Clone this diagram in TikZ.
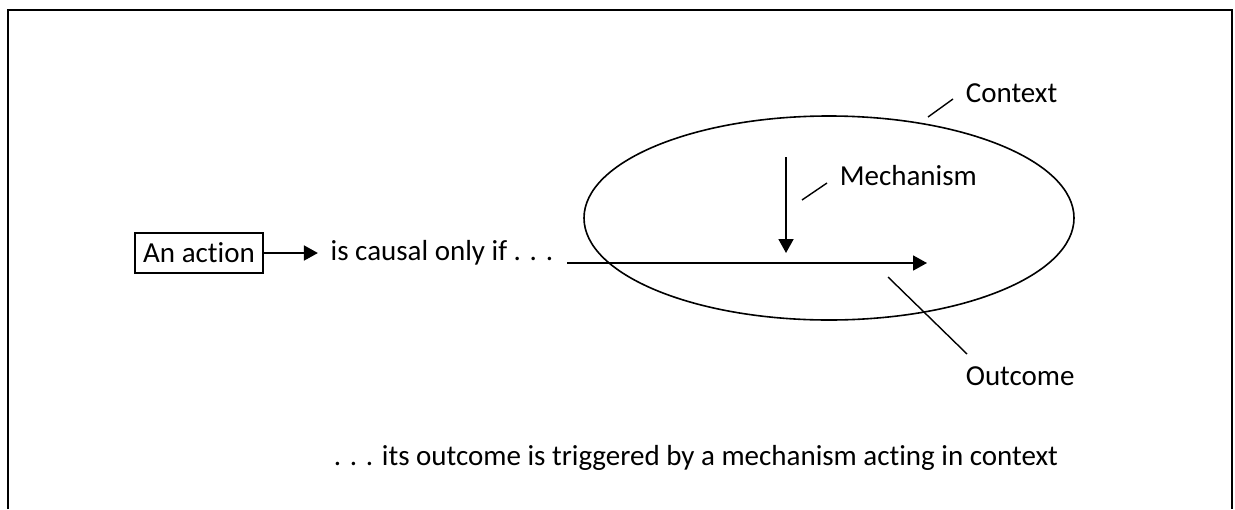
\documentclass[tikz,border=0pt]{standalone}
\usepackage{fontspec}
\setmainfont{Carlito}[Ligatures=NoCommon]
\usetikzlibrary{positioning,arrows.meta,calc,shapes.geometric}

\begin{document}
\begin{tikzpicture}[
    x=0.5pt, y=-0.5pt,
    font=\fontsize{14.5}{17}\selectfont,
    line width=0.8pt,
    ar/.style     = {-{Triangle[length=7pt,width=7.5pt]}, line width=0.9pt},
    lead/.style   = {line width=0.7pt},
    txt/.style    = {inner sep=0pt, anchor=west},
    actbox/.style = {draw, line width=0.9pt, minimum width=64pt, minimum height=20pt,
                     inner sep=0pt},
]
\useasboundingbox (0,0) rectangle (1235,509);

% ---------------- open frame ----------------
\draw[line width=1.1pt] (8,509) -- (8,10) -- (1232,10) -- (1232,509);

% ---------------- context ----------------
\node[draw, ellipse, minimum width=245pt, minimum height=102pt, inner sep=0pt] (ctx) at (829,218) {};

% ---------------- action ----------------
\node[actbox] (act) at (199,253) {An action};
\node[txt, right=33pt of act] (cond) {is causal only if . . .};
\draw[ar] (act) -- ([xshift=-6pt]cond.west);

% ---------------- mechanism acting on the outcome path ----------------
\coordinate (flowstart) at (567,263);
\coordinate (flowend)   at (927,263);
\draw[ar] (flowstart) -- (flowend);

\coordinate (mechtop) at (786,157);
\coordinate (mechend) at (786,253);
\draw[ar] (mechtop) -- (mechend);

% ---------------- labels ----------------
\node[txt] (mechlbl) at (839,176) {Mechanism};
\coordinate (mechtip) at (802,200);
\draw[lead] ([shift={(-12,7)}]mechlbl.west) -- (mechtip);

\node[txt] (ctxlbl) at (965,93) {Context};
\coordinate (ctxtip) at (928,117);
\draw[lead] ([shift={(-12,6)}]ctxlbl.west) -- (ctxtip);

\node[txt] (outlbl) at (965,376) {Outcome};
\coordinate (outtip) at (888,277);
\draw[lead] ([shift={(2,-22)}]outlbl.west) -- (outtip);

\node[txt] (summary) at (333,458) {. . . its outcome is triggered by a mechanism acting in context};

\end{tikzpicture}
\end{document}
